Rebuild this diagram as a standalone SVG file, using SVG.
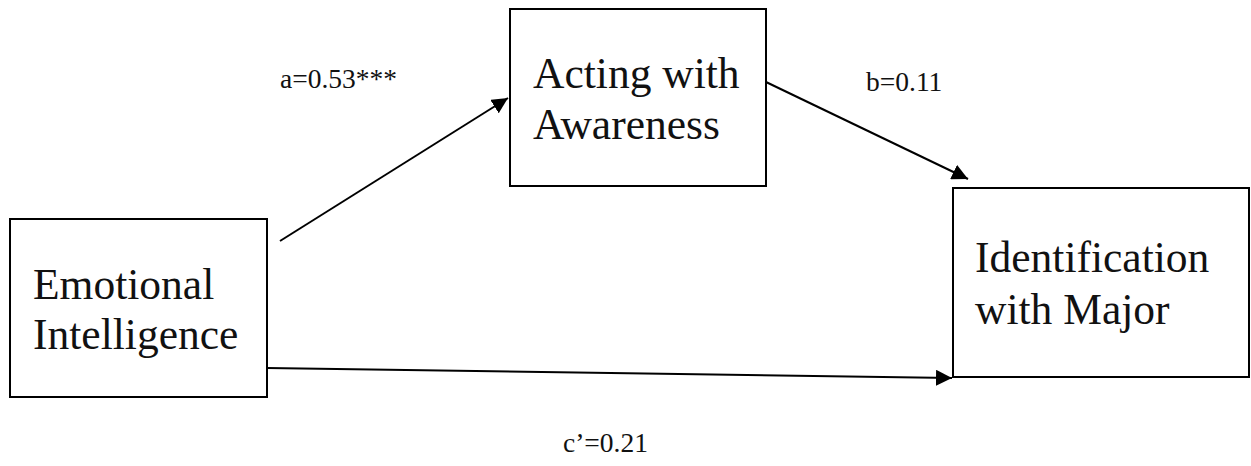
<svg xmlns="http://www.w3.org/2000/svg" width="1251" height="466" viewBox="0 0 1251 466">
  <style>
    .box { fill: #ffffff; stroke: #000000; stroke-width: 2; }
    .node-text { font-family: "Liberation Serif", "Times New Roman", serif; font-size: 43.5px; fill: #111111; }
    .label { font-family: "Liberation Serif", "Times New Roman", serif; font-size: 27.5px; fill: #111111; }
    .edge { fill: none; stroke: #000000; stroke-width: 2; }
  </style>
  <defs>
    <marker id="arrow" viewBox="0 0 10 10" refX="10" refY="5" markerWidth="8" markerHeight="8" markerUnits="strokeWidth" orient="auto">
      <path d="M0,0 L10,5 L0,10 z" fill="#000000"/>
    </marker>
  </defs>
  <rect width="1251" height="466" fill="#ffffff"/>

  <g id="connectors">
    <line class="edge" x1="280" y1="241" x2="508" y2="98" marker-end="url(#arrow)"/>
    <line class="edge" x1="766" y1="82" x2="968" y2="179" marker-end="url(#arrow)"/>
    <line class="edge" x1="267" y1="368" x2="952" y2="378" marker-end="url(#arrow)"/>
    <text class="label" x="280" y="88">a=0.53***</text>
    <text class="label" x="866" y="91">b=0.11</text>
    <text class="label" x="563" y="452">c’=0.21</text>
  </g>

  <g id="node-emotional-intelligence">
    <rect class="box" x="10" y="219" width="257" height="178"/>
    <text class="node-text" x="33" y="299">Emotional</text>
    <text class="node-text" x="33" y="349">Intelligence</text>
  </g>

  <g id="node-acting-with-awareness">
    <rect class="box" x="510" y="9" width="256" height="177"/>
    <text class="node-text" x="533" y="88">Acting with</text>
    <text class="node-text" x="533" y="139">Awareness</text>
  </g>

  <g id="node-identification-with-major">
    <rect class="box" x="953" y="188" width="296" height="189"/>
    <text class="node-text" x="975" y="272">Identification</text>
    <text class="node-text" x="975" y="324">with Major</text>
  </g>
</svg>
